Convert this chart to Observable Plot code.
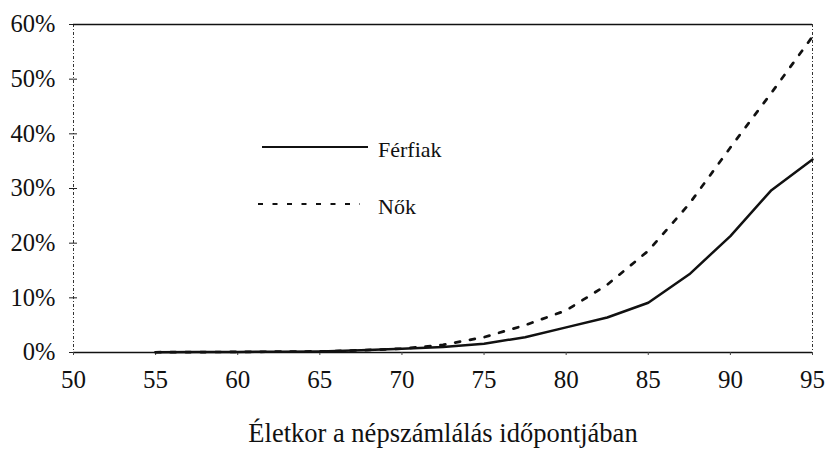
<!DOCTYPE html>
<html>
<head>
<meta charset="utf-8">
<script src="https://cdn.jsdelivr.net/npm/d3@7"></script>
<script src="https://cdn.jsdelivr.net/npm/@observablehq/plot@0.6"></script>
<style>
  html, body { margin: 0; padding: 0; background: #fff; }
  #wrap { position: relative; width: 826px; height: 452px; font-family: "Liberation Serif", serif; }
  #chart svg text { font-family: "Liberation Serif", serif; font-size: 24.5px; fill: #111; }
  #chart svg g[aria-label="x-axis tick label"] text { font-size: 25px; }
  #chart svg g[aria-label="x-axis label"] text { font-size: 26.5px; }
  #legend { position: absolute; left: 256px; top: 137px; font-family: "Liberation Serif", serif; font-size: 22px; color: #111; }
  .row { display: flex; align-items: center; height: 20px; }
  .row svg { display: block; }
  .row span { margin-left: 8px; position: relative; top: 3px; font-family: "Liberation Serif", serif; }
</style>
</head>
<body>
<div id="wrap">
  <div id="chart"></div>
  <div id="legend"></div>
</div>
<script>
// Age at census (x) and share (%) for men and women
const ages =   [55, 57.5, 60, 62.5, 65, 67.5, 70, 72.5, 75, 77.5, 80, 82.5, 85, 87.5, 90, 92.5, 95];
const ferfiak = [0.05, 0.08, 0.1, 0.15, 0.2, 0.4, 0.7, 1.0, 1.6, 2.8, 4.6, 6.4, 9.1, 14.3, 21.3, 29.7, 35.3];
const nok =     [0.05, 0.08, 0.1, 0.15, 0.2, 0.4, 0.7, 1.4, 2.8, 5.0, 7.7, 12.4, 18.6, 27.2, 37.5, 47.5, 57.8];
const xTicks = [50, 55, 60, 65, 70, 75, 80, 85, 90, 95];
const yTicks = [0, 10, 20, 30, 40, 50, 60];
const seriesNames = ["Férfiak", "Nők"];
const xLabel = "Életkor a népszámlálás időpontjában";

const data = [
  ...ages.map((a, i) => ({age: a, value: ferfiak[i], series: seriesNames[0]})),
  ...ages.map((a, i) => ({age: a, value: nok[i], series: seriesNames[1]}))
];

const font = "Liberation Serif, serif";

const chart = Plot.plot({
  width: 826,
  height: 452,
  marginLeft: 73,
  marginRight: 14,
  marginTop: 24,
  marginBottom: 100,
  style: {fontFamily: font, fontSize: "24px", color: "#111", background: "#fff"},
  x: {domain: [50, 95]},
  y: {domain: [0, 60]},
  marks: [
    Plot.ruleX([50, 95], {stroke: "#333", strokeWidth: 1, strokeDasharray: "3,2,1,2"}),
    Plot.ruleY([60], {stroke: "#111", strokeWidth: 1.5}),
    Plot.ruleY([0], {stroke: "#111", strokeWidth: 1.5}),
    Plot.axisY({ticks: yTicks, tickSize: 4, tickPadding: 14, tickFormat: d => d + "%", stroke: "#222", label: null}),
    Plot.axisY({ticks: yTicks.filter(d => d > 0 && d < 60), tickSize: -4, text: null, stroke: "#222", label: null}),
    Plot.axisX({ticks: xTicks, tickSize: 3, tickPadding: 15, tickFormat: d => String(d), stroke: "#444", label: xLabel, labelAnchor: "center", labelArrow: "none", labelOffset: 89}),
    Plot.line(data.filter(d => d.series === seriesNames[0]), {x: "age", y: "value", stroke: "#111", strokeWidth: 2.5}),
    Plot.line(data.filter(d => d.series === seriesNames[1]), {x: "age", y: "value", stroke: "#111", strokeWidth: 2.7, strokeDasharray: "5,10"})
  ]
});
document.getElementById("chart").appendChild(chart);

// Legend
const legend = d3.select("#legend");
const dashes = [null, "5,9.5"];
seriesNames.forEach((name, i) => {
  const row = legend.append("div").attr("class", "row").style("margin-bottom", i === 0 ? "37px" : "0");
  const s = row.append("svg").attr("width", 114).attr("height", 6);
  s.append("line").attr("x1", i === 0 ? 6 : 2).attr("x2", i === 0 ? 112 : 104).attr("y1", 3).attr("y2", 3)
    .attr("stroke", "#111").attr("stroke-width", 2.2)
    .attr("stroke-dasharray", dashes[i]);
  row.append("span").text(name);
});
</script>
</body>
</html>
